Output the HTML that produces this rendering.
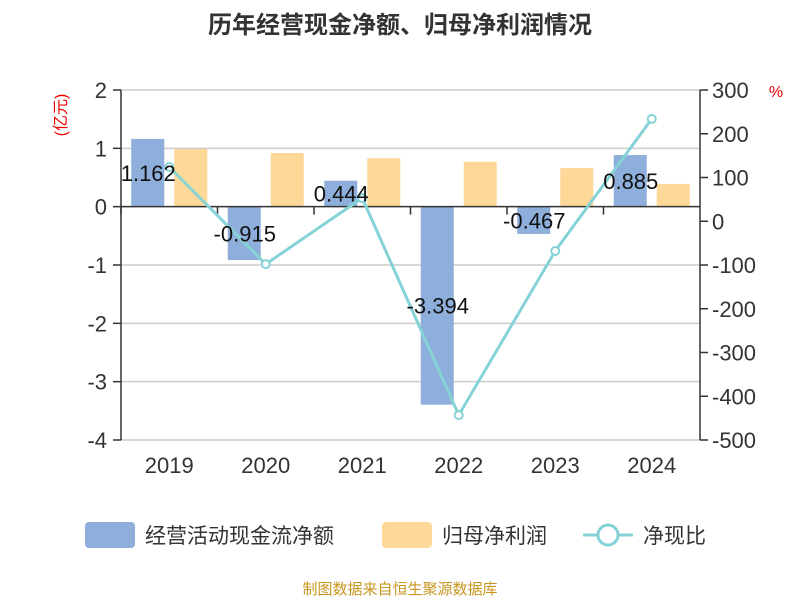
<!DOCTYPE html>
<html><head><meta charset="utf-8"><style>
body{margin:0;background:#fff;}
svg text{font-family:"Liberation Sans","Noto Sans CJK SC",sans-serif;}
</style></head><body>
<svg id="chart" width="800" height="600" xmlns="http://www.w3.org/2000/svg">
<text x="400" y="33" text-anchor="middle" font-size="24" font-weight="bold" fill="#333">历年经营现金净额、归母净利润情况</text>
<text transform="translate(66,115) rotate(-90)" text-anchor="middle" font-size="16" fill="#e00">(亿元)</text>
<text x="776" y="97" text-anchor="middle" font-size="16" fill="#e00">%</text>
<g id="grid"></g><g id="bars"></g><g id="axes"></g><g id="line"></g><g id="labels"></g>
<g>
<rect x="85" y="522" width="50" height="26" rx="4" fill="#8eaedb"/>
<text x="145" y="543" font-size="21" fill="#333">经营活动现金流净额</text>
<rect x="382" y="522" width="50" height="26" rx="4" fill="#fdd898"/>
<text x="442" y="543" font-size="21" fill="#333">归母净利润</text>
<line x1="583" y1="535" x2="633" y2="535" stroke="#86d3d7" stroke-width="3"/>
<circle cx="608" cy="535" r="10" fill="#fff" stroke="#86d3d7" stroke-width="3"/>
<text x="643" y="543" font-size="21" fill="#333">净现比</text>
</g>
<text x="400" y="594" text-anchor="middle" font-size="15" fill="#c8961e">制图数据来自恒生聚源数据库</text>
</svg>
<script>
const categories=["2019","2020","2021","2022","2023","2024"];
const cashFlow=[1.162,-0.915,0.444,-3.394,-0.467,0.885];
const netProfit=[0.99,0.92,0.83,0.77,0.66,0.39];
const ratio=[124,-98,53,-443,-68,234];
const leftTicks=[2,1,0,-1,-2,-3,-4];
const rightTicks=[300,200,100,0,-100,-200,-300,-400,-500];
const NS="http://www.w3.org/2000/svg";
const X0=121,X1=700,Y0=90,Y1=440;
const yL=v=>Y0+(2-v)/6*(Y1-Y0);
const yR=v=>Y0+(300-v)/800*(Y1-Y0);
const bw=(X1-X0)/categories.length;
const xc=i=>X0+bw*(i+0.5);
function mk(tag,attrs,parent,text){const e=document.createElementNS(NS,tag);for(const k in attrs)e.setAttribute(k,attrs[k]);if(text!==undefined)e.textContent=text;document.getElementById(parent).appendChild(e);return e;}
leftTicks.forEach(t=>{
 if(t!==0){const g=mk('line',{x1:X0,x2:X1,y1:yL(t),y2:yL(t),stroke:'#ccc','stroke-width':1.5},'grid');
 
 }
 const tk=mk('line',{x1:X0-8,x2:X0,y1:yL(t),y2:yL(t),stroke:'#333','stroke-width':1.5},'axes');
 
 
 const l=mk('text',{x:X0-14,y:yL(t)+8,'text-anchor':'end','font-size':22,fill:'#333'},'axes',t);
 
 
});
rightTicks.forEach(t=>{
 const tk=mk('line',{x1:X1,x2:X1+8,y1:yR(t),y2:yR(t),stroke:'#333','stroke-width':1.5},'axes');
 
 
 const l=mk('text',{x:X1+12,y:yR(t)+8,'font-size':22,fill:'#333'},'axes',t);
 
 
});
let a=mk('line',{x1:X0,x2:X0,y1:Y0,y2:Y1,stroke:'#333','stroke-width':1.5},'axes');


a=mk('line',{x1:X1,x2:X1,y1:Y0,y2:Y1,stroke:'#333','stroke-width':1.5},'axes');


a=mk('line',{x1:X0,x2:X1,y1:yL(0),y2:yL(0),stroke:'#333','stroke-width':1.5},'axes');


categories.forEach((c,i)=>{
 const tk=mk('line',{x1:X0+bw*i,x2:X0+bw*i,y1:yL(0),y2:yL(0)+8,stroke:'#333','stroke-width':1.5},'axes');
 
 
 const l=mk('text',{x:xc(i),y:473,'text-anchor':'middle','font-size':22,fill:'#333'},'axes',c);
 
 
 const v=cashFlow[i];
 const b=mk('rect',{x:xc(i)-38,y:Math.min(yL(v),yL(0)),width:33,height:Math.abs(yL(v)-yL(0)),fill:'#8eaedb'},'bars');
 
 
 const p=netProfit[i];
 const b2=mk('rect',{x:xc(i)+5,y:Math.min(yL(p),yL(0)),width:33,height:Math.abs(yL(p)-yL(0)),fill:'#fdd898'},'bars');
 
 
 const vl=mk('text',{x:xc(i)-21,y:(yL(v)+yL(0))/2+8,'text-anchor':'middle','font-size':22,fill:'#111'},'labels',v);
 
 
});
const pl=mk('polyline',{points:ratio.map((r,i)=>xc(i)+','+yR(r)).join(' '),fill:'none',stroke:'#86d3d7','stroke-width':3},'line');


ratio.forEach((r,i)=>{
 const c=mk('circle',{cx:xc(i),cy:yR(r),r:4,fill:'#fff',stroke:'#86d3d7','stroke-width':2},'line');
 
 
});
</script>
</body></html>
